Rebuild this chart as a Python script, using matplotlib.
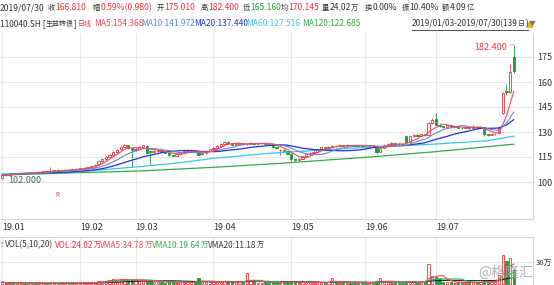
import numpy as np
import pandas as pd
import matplotlib
matplotlib.use('Agg')
import matplotlib.pyplot as plt
from matplotlib.lines import Line2D

W, H = 554, 285
FAM = ['Noto Sans CJK SC', 'DejaVu Sans']
plt.rcParams['font.family'] = FAM

# ---------------- data ----------------
month_labels = ['19.01', '19.02', '19.03', '19.04', '19.05', '19.06', '19.07']
month_start = [0, 21, 36, 57, 78, 98, 117]
price_ticks = [100, 115, 130, 145, 160, 175]

opens = [
    102.6, 104.0, 104.5, 105.1, 104.8, 105.3, 105.7, 105.4, 105.8, 106.1, 105.7, 106.1, 106.5, 106.3, 106.8, 107.1, 106.7, 107.1, 107.5, 107.2, 107.6,
    108.0, 108.2, 108.7, 108.9, 109.5, 110.6, 112.5, 113.9, 115.0, 116.5, 118.2, 119.6, 121.2, 122.2, 120.6,
    119.0, 120.0, 121.2, 121.6, 118.8, 118.0, 118.6, 119.0, 118.2, 117.6, 116.2, 115.8, 116.8, 117.8, 118.4, 118.8, 119.1, 118.5, 116.6, 117.2, 118.8,
    119.8, 120.5, 121.8, 122.9, 124.2, 123.5, 122.4, 122.8, 123.3, 122.6, 123.0, 123.5, 122.8, 123.2, 123.4, 123.0, 122.6, 121.0, 119.0, 119.5, 118.8,
    117.0, 113.8, 113.2, 113.9, 115.5, 116.8, 117.5, 118.3, 119.6, 120.8, 120.4, 121.2, 121.8, 121.5, 122.0, 121.7, 122.3, 122.0, 121.6, 122.2,
    121.8, 121.5, 122.0, 121.8, 118.0, 120.5, 122.3, 123.0, 123.4, 123.0, 122.6, 127.8, 124.2, 127.5, 128.5, 127.8, 128.6, 128.5, 135.5,
    138.0, 134.5, 133.5, 133.1, 133.9, 132.9, 133.4, 132.5, 132.2, 132.9, 132.3, 133.2, 132.7, 133.0, 128.6, 128.3, 128.9, 129.3, 141.6, 154.5, 154.0, 175.01,
]
highs = [
    104.3, 104.8, 105.3, 105.4, 105.6, 105.9, 105.9, 106.0, 106.3, 106.2, 106.3, 106.6, 106.7, 108.8, 107.3, 107.9, 107.4, 107.6, 107.6, 107.9, 108.3,
    108.5, 108.9, 109.1, 109.8, 110.8, 112.8, 114.2, 115.4, 116.9, 118.6, 120.0, 121.6, 123.0, 122.5, 121.2,
    120.4, 121.6, 122.5, 122.0, 119.3, 119.0, 119.4, 119.2, 118.4, 117.8, 116.5, 117.1, 118.1, 118.7, 119.1, 119.4, 119.3, 118.7, 117.5, 119.1, 120.1,
    120.9, 122.1, 123.2, 124.8, 124.6, 123.7, 123.1, 123.6, 123.5, 123.3, 123.9, 123.7, 123.5, 123.7, 123.6, 123.3, 122.8, 121.3, 120.0, 119.9, 119.0,
    117.3, 114.0, 114.3, 115.8, 117.1, 117.8, 118.6, 119.9, 121.1, 121.0, 121.5, 122.3, 122.1, 122.3, 122.2, 122.6, 122.5, 122.2, 122.5, 122.4,
    122.0, 122.3, 122.2, 122.0, 120.8, 122.6, 123.3, 123.8, 123.6, 123.2, 122.9, 128.5, 127.8, 128.9, 128.8, 129.0, 128.9, 136.0, 138.4,
    141.4, 135.2, 133.9, 134.3, 134.1, 133.8, 133.6, 132.8, 133.3, 133.1, 134.5, 133.5, 133.5, 133.2, 129.0, 129.3, 129.6, 133.0, 154.0, 159.0, 171.0, 182.4,
]
lows = [
    102.0, 103.6, 104.2, 104.5, 104.6, 105.0, 105.1, 105.2, 105.6, 105.5, 105.5, 105.9, 106.1, 106.1, 106.6, 106.5, 106.5, 106.9, 107.0, 107.0, 107.4,
    107.7, 108.0, 108.3, 108.7, 109.3, 110.4, 112.2, 113.5, 114.6, 116.2, 117.8, 119.2, 120.8, 119.8, 109.2,
    118.6, 119.7, 120.9, 117.0, 110.2, 117.6, 118.2, 117.9, 117.3, 115.9, 115.4, 115.6, 116.5, 117.5, 118.1, 118.5, 118.2, 116.1, 116.3, 117.0, 118.5,
    119.5, 120.2, 121.5, 122.6, 123.2, 122.1, 122.2, 122.5, 122.3, 122.4, 122.8, 122.5, 122.6, 123.0, 122.7, 122.3, 120.7, 119.9, 116.5, 118.4, 116.6,
    112.5, 112.6, 112.9, 113.6, 115.2, 116.5, 117.2, 118.0, 119.3, 120.0, 120.1, 120.9, 121.2, 121.3, 121.4, 121.5, 121.7, 121.3, 121.4, 121.5,
    121.2, 121.3, 121.5, 116.8, 117.8, 120.2, 122.0, 122.8, 122.7, 122.3, 121.7, 123.0, 124.0, 127.2, 127.4, 127.5, 127.8, 128.2, 135.0,
    134.0, 133.2, 132.7, 132.9, 132.6, 132.7, 132.2, 131.9, 132.0, 132.0, 132.1, 132.4, 132.5, 127.8, 127.5, 128.0, 128.5, 129.0, 141.0, 152.0, 153.5, 165.16,
]
closes = [
    104.0, 104.5, 105.0, 104.8, 105.3, 105.6, 105.4, 105.8, 106.0, 105.7, 106.1, 106.4, 106.3, 106.8, 107.0, 106.7, 107.1, 107.4, 107.2, 107.6, 108.0,
    108.2, 108.6, 108.9, 109.5, 110.5, 112.5, 113.8, 115.0, 116.5, 118.2, 119.5, 121.2, 122.3, 120.2, 119.0,
    120.0, 121.2, 122.0, 117.5, 118.0, 118.6, 119.0, 118.2, 117.6, 116.2, 115.8, 116.8, 117.8, 118.4, 118.8, 119.0, 118.5, 116.5, 117.2, 118.8, 119.8,
    120.5, 121.8, 122.9, 124.2, 123.5, 122.4, 122.8, 123.3, 122.6, 123.0, 123.5, 122.8, 123.2, 123.4, 123.0, 122.6, 121.0, 120.2, 119.5, 118.8, 117.0,
    113.8, 113.2, 113.9, 115.5, 116.8, 117.5, 118.3, 119.6, 120.8, 120.4, 121.2, 121.8, 121.5, 122.0, 121.7, 122.3, 122.0, 121.6, 122.2, 121.8,
    121.5, 122.0, 121.8, 118.0, 120.5, 122.3, 123.0, 123.4, 123.0, 122.6, 122.0, 124.2, 127.5, 128.5, 127.8, 128.6, 128.2, 135.5, 137.0,
    134.5, 133.5, 133.1, 133.9, 132.9, 133.4, 132.5, 132.2, 132.9, 132.3, 133.2, 132.7, 133.0, 128.6, 128.3, 128.9, 129.05, 132.25, 153.2, 153.76, 165.83, 166.81,
]
volumes = [  # 万
    3.0, 1.8, 1.5, 1.2, 1.6, 1.4, 1.1, 1.3, 1.5, 1.2, 1.4, 1.6, 1.3, 2.0, 1.7, 1.2, 1.5, 1.8, 1.4, 1.6, 2.2,
    1.8, 1.9, 2.0, 2.6, 3.2, 4.8, 5.5, 6.0, 7.2, 8.0, 7.5, 8.2, 7.8, 6.5, 7.0,
    6.2, 5.8, 6.5, 5.2, 6.0, 3.5, 3.0, 2.8, 2.5, 3.2, 2.9, 2.4, 2.6, 2.3, 2.8, 3.5, 4.2, 10.5, 4.0, 3.2, 2.8,
    3.5, 4.0, 3.8, 5.0, 4.2, 3.0, 2.6, 2.8, 3.2, 18.5, 4.5, 3.0, 2.4, 2.2, 2.6, 2.0, 2.8, 3.0, 2.5, 2.2, 3.5,
    4.0, 3.2, 2.5, 2.8, 3.0, 2.6, 2.4, 2.8, 3.0, 2.5, 2.7, 11.0, 3.2, 2.4, 2.0, 2.2, 1.9, 2.1, 2.3, 2.0,
    2.1, 1.8, 2.0, 4.5, 10.8, 3.5, 2.8, 2.4, 2.0, 1.8, 2.2, 5.5, 4.0, 3.2, 2.5, 2.8, 3.0, 34.0, 13.5,
    12.0, 9.0, 3.5, 3.0, 2.6, 2.4, 2.8, 2.2, 2.5, 2.6, 2.9, 2.7, 3.0, 7.5, 4.2, 3.6, 4.2, 15.0, 50.0, 40.0, 45.0, 24.02,
]
# long moving averages (they use history before the window)
ma60_idx = [0, 21, 37, 48, 57, 72, 98, 117, 131, 138]
ma60_val = [104.8, 106.2, 109.2, 111.6, 114.2, 117.2, 120.8, 122.8, 124.8, 127.5]
ma120_idx = [0, 21, 37, 57, 75, 98, 117, 138]
ma120_val = [104.2, 105.6, 106.6, 108.8, 111.2, 114.8, 118.2, 122.7]
vol_tick = 38

# ---------------- style ----------------
RED = '#e8353e'
GREEN = '#1f9a3a'
TXT = '#333333'
GRID = '#e8e8e8'
SPINE = '#d4d4d4'
C_MA5 = '#e84d5b'
C_MA10 = '#7480e0'
C_MA20 = '#1f35c8'
C_MA60 = '#3cc6e6'
C_MA120 = '#37a84a'
FS = 6.2
F2 = 6.0   # row 2 size
CJ = 5.2  # size of CJK glyphs inside header texts

n = len(closes)
x = np.arange(n)
o = np.array(opens); h = np.array(highs); l = np.array(lows); c = np.array(closes)
v = np.array(volumes)
up = c >= o

fig = plt.figure(figsize=(W / 100, H / 100), dpi=100)
fig.patch.set_facecolor('white')

XL = (-0.57, 143.18)

# price axes
ax = fig.add_axes([0, 66 / H, 533 / W, 186 / H])
ax.set_xlim(*XL)
ax.set_ylim(77.8, 189.4)
for s in ['left', 'top']:
    ax.spines[s].set_visible(False)
for s in ['right', 'bottom']:
    ax.spines[s].set_color(SPINE)
    ax.spines[s].set_linewidth(0.8)
ax.yaxis.tick_right()
ax.set_yticks(price_ticks)
ax.set_yticklabels([str(t) for t in price_ticks])
ax.tick_params(axis='y', length=0, pad=3, labelsize=FS + 0.3, labelcolor=TXT)
ax.set_xticks(month_start)
ax.set_xticklabels(month_labels)
ax.tick_params(axis='x', length=0, pad=3, labelsize=FS + 0.3, labelcolor=TXT)
for lb in ax.get_xticklabels():
    lb.set_ha('left')
ax.grid(True, color=GRID, lw=0.8, zorder=0)
ax.set_axisbelow(True)

# wicks
ax.vlines(x, l, h, colors=np.where(up, RED, GREEN), lw=0.6, zorder=2)
bw = 0.62
body_h = np.maximum(np.abs(c - o), 0.15)
body_b = np.minimum(o, c)
ax.bar(x[up], body_h[up], bottom=body_b[up], width=bw, facecolor='white',
       edgecolor=RED, linewidth=0.6, zorder=3)
ax.bar(x[~up], body_h[~up], bottom=body_b[~up], width=bw, facecolor=GREEN,
       edgecolor=GREEN, linewidth=0.6, zorder=3)

cs = pd.Series(c)
ma5 = cs.rolling(5, min_periods=1).mean()
ma10 = cs.rolling(10, min_periods=1).mean()
ma20 = cs.rolling(20, min_periods=1).mean()
ax.plot(ma120_idx, ma120_val, color=C_MA120, lw=0.9, zorder=4)
ax.plot(ma60_idx, ma60_val, color=C_MA60, lw=0.9, zorder=4)
ax.plot(x, ma20, color=C_MA20, lw=0.9, zorder=4)
ax.plot(x, ma10, color=C_MA10, lw=0.8, zorder=4)
ax.plot(x, ma5, color=C_MA5, lw=0.8, zorder=4)

imax = int(np.argmax(h)); imin = int(np.argmin(l))
ax.annotate(f'{h[imax]:.3f}', xy=(imax, h[imax]), xytext=(-5, -2), textcoords='offset points',
            ha='right', va='center', fontsize=FS + 0.3, color=RED,
            arrowprops=dict(arrowstyle='-', color='#999999', lw=0.5, shrinkA=0, shrinkB=0))
ax.annotate(f'{l[imin]:.3f}', xy=(imin, l[imin]), xytext=(4.5, -1), textcoords='offset points',
            ha='left', va='center', fontsize=FS + 0.3, color='#3a6e5a')
r_idx = 15
ax.text(r_idx, 92.2, 'R', color=RED, fontsize=4.5, ha='center', va='center')

# volume axes
axv = fig.add_axes([0, 0, 533 / W, 48 / H])
axv.set_xlim(*XL)
axv.set_ylim(-1.73, 81.2)
for s in ['left', 'bottom']:
    axv.spines[s].set_visible(False)
for s in ['right', 'top']:
    axv.spines[s].set_color(SPINE)
    axv.spines[s].set_linewidth(0.8)
axv.yaxis.tick_right()
axv.set_yticks([vol_tick])
axv.set_yticklabels([f'{vol_tick}万'])
axv.tick_params(axis='y', length=0, pad=2, labelsize=5.6, labelcolor=TXT)
axv.set_xticks(month_start)
axv.set_xticklabels([])
axv.tick_params(axis='x', length=0)
axv.grid(True, color=GRID, lw=0.8, zorder=0)
axv.set_axisbelow(True)
axv.bar(x[up], v[up], width=bw, facecolor='white', edgecolor=RED, linewidth=0.6, zorder=3)
axv.bar(x[~up], v[~up], width=bw, facecolor=GREEN, edgecolor=GREEN, linewidth=0.6, zorder=3)
vs = pd.Series(v)
axv.plot(x, vs.rolling(20, min_periods=1).mean(), color='#222222', lw=0.8, zorder=4)
axv.plot(x, vs.rolling(10, min_periods=1).mean(), color=C_MA120, lw=0.8, zorder=4)
axv.plot(x, vs.rolling(5, min_periods=1).mean(), color=C_MA5, lw=0.8, zorder=4)

renderer = fig.canvas.get_renderer()


def chain(py, start, parts):
    """Place text pieces one after another, starting at pixel x=start."""
    xc = start
    for s, col, sz in parts:
        t = fig.text(xc / W, 1 - py / H, s, color=col, fontsize=sz, ha='left', va='center')
        xc = t.get_window_extent(renderer).x1 + 0.2
    return xc


# header row 1
chain(8, 0, [('2019/07/30', TXT, FS)])
chain(8, 48, [('收', TXT, CJ), ('166.810', RED, FS)])
chain(8, 93, [('幅', TXT, CJ), ('0.59%(0.980)', RED, FS)])
chain(8, 157, [('开', TXT, CJ), ('175.010', RED, FS)])
chain(8, 201, [('高', TXT, CJ), ('182.400', RED, FS)])
chain(8, 243, [('低', TXT, CJ), ('165.160', GREEN, FS)])
chain(8, 281, [('均', TXT, CJ), ('170.145', RED, FS)])
chain(8, 322, [('量', TXT, CJ), ('24.02', TXT, FS), ('万', TXT, CJ)])
chain(8, 365, [('换', TXT, CJ), ('0.00%', TXT, FS)])
chain(8, 402, [('振', TXT, CJ), ('10.40%', TXT, FS)])
chain(8, 442, [('额', TXT, CJ), ('4.09', TXT, FS), ('亿', TXT, CJ)])

# header row 2
chain(24, 0, [('110040.SH [', TXT, F2), ('生益转债', TXT, 5.0), (']', TXT, F2)])
chain(24, 78, [('日线', RED, 5.0)])
chain(24, 94, [('MA5:154.368', C_MA5, F2)])
chain(24, 141, [('MA10:141.972', '#5a8ad6', F2)])
chain(24, 194, [('MA20:137.440', C_MA20, F2)])
chain(24, 246, [('MA60:127.516', C_MA60, F2)])
chain(24, 302, [('MA120:122.685', C_MA120, F2)])
xe = chain(24, 412, [('2019/01/03-2019/07/30(139', TXT, F2), ('日', TXT, 5.0), (')', TXT, F2)])
fig.add_artist(Line2D([412 / W, (xe - 0.2) / W], [1 - 30 / H, 1 - 30 / H], color=TXT, lw=0.6))
chain(24, xe + 1, [('▼', '#777777', 5.0)])
fig.add_artist(plt.Rectangle((527 / W, 1 - 27 / H), 5 / W, 5 / H, facecolor='#f2b400',
                             edgecolor='#d89a00', lw=0.4))

# volume header
VF = 5.9
chain(245, 0, [('?', '#888888', 5.6)])
chain(245, 5, [('VOL(5,10,20)', TXT, VF)])
chain(245, 55, [('VOL:24.02', RED, VF), ('万', RED, CJ)])
chain(245, 100, [('VMA5:34.78', C_MA5, VF), ('万', C_MA5, CJ)])
chain(245, 152, [('VMA10:19.64', C_MA120, VF), ('万', C_MA120, CJ)])
chain(245, 208, [('VMA20:11.18', TXT, VF), ('万', TXT, CJ)])

fig.text(478 / W, 1 - 273 / H, '@格隆汇', color='#a8a8a8', fontsize=10, alpha=0.9,
         ha='left', va='center')

fig.savefig('out.png', dpi=100, facecolor='white')
